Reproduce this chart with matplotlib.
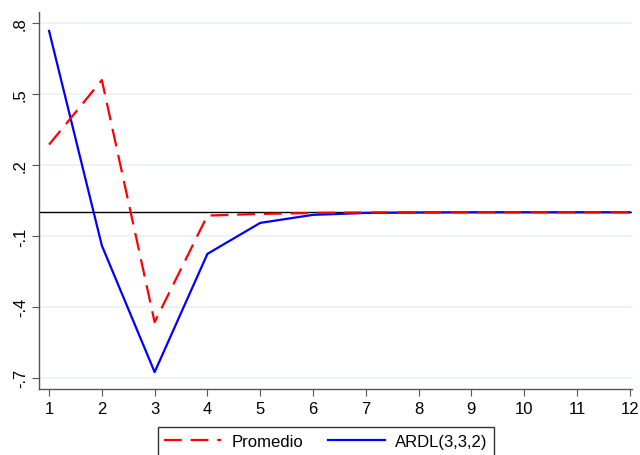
import matplotlib
matplotlib.use("Agg")
import matplotlib.pyplot as plt

periods = list(range(1, 13))
promedio = [0.286, 0.559, -0.465, -0.014, -0.007, -0.003, -0.001, 0.0, 0.0, 0.0, 0.0, 0.0]
ardl = [0.767, -0.141, -0.676, -0.176, -0.045, -0.011, -0.003, -0.001, 0.0, 0.0, 0.0, 0.0]
yticks = [0.8, 0.5, 0.2, -0.1, -0.4, -0.7]
ytick_labels = [".8", ".5", ".2", "-.1", "-.4", "-.7"]

plt.rcParams['font.family'] = ['Liberation Sans', 'DejaVu Sans']

fig = plt.figure(figsize=(6.4, 4.56), dpi=100)
ax = fig.add_axes([0.061, 0.145, 0.927, 0.826])

for y in yticks:
    ax.axhline(y, color='#eaf2f3', lw=1.2, zorder=0)
ax.axhline(0, color='black', lw=1.0, zorder=1)

ax.plot(periods, promedio, color='#ff0000', lw=1.6, dashes=(8, 4), label='Promedio', zorder=3)
ax.plot(periods, ardl, color='#0000ff', lw=1.6, label='ARDL(3,3,2)', zorder=2)

ax.set_xlim(0.81, 12.05)
ax.set_ylim(-0.747, 0.846)
ax.set_xticks(periods)
ax.set_yticks(yticks)
ax.set_yticklabels(ytick_labels, rotation=90, va='center')
ax.tick_params(labelsize=12, length=5, width=0.8, color='#555555', direction='out')
ax.tick_params(axis='y', pad=3)
for s in ['top', 'right']:
    ax.spines[s].set_visible(False)
for s in ['left', 'bottom']:
    ax.spines[s].set_color('#555555')
    ax.spines[s].set_linewidth(1.0)

leg = fig.legend(loc='upper center', bbox_to_anchor=(0.509, 0.061), ncol=2,
                 fontsize=12, frameon=True, fancybox=False, handlelength=3.4,
                 columnspacing=1.5, borderpad=0.4, handletextpad=0.6,
                 borderaxespad=0)
leg.get_frame().set_edgecolor('black')
leg.get_frame().set_linewidth(1.0)

fig.savefig("out.png", dpi=100)
